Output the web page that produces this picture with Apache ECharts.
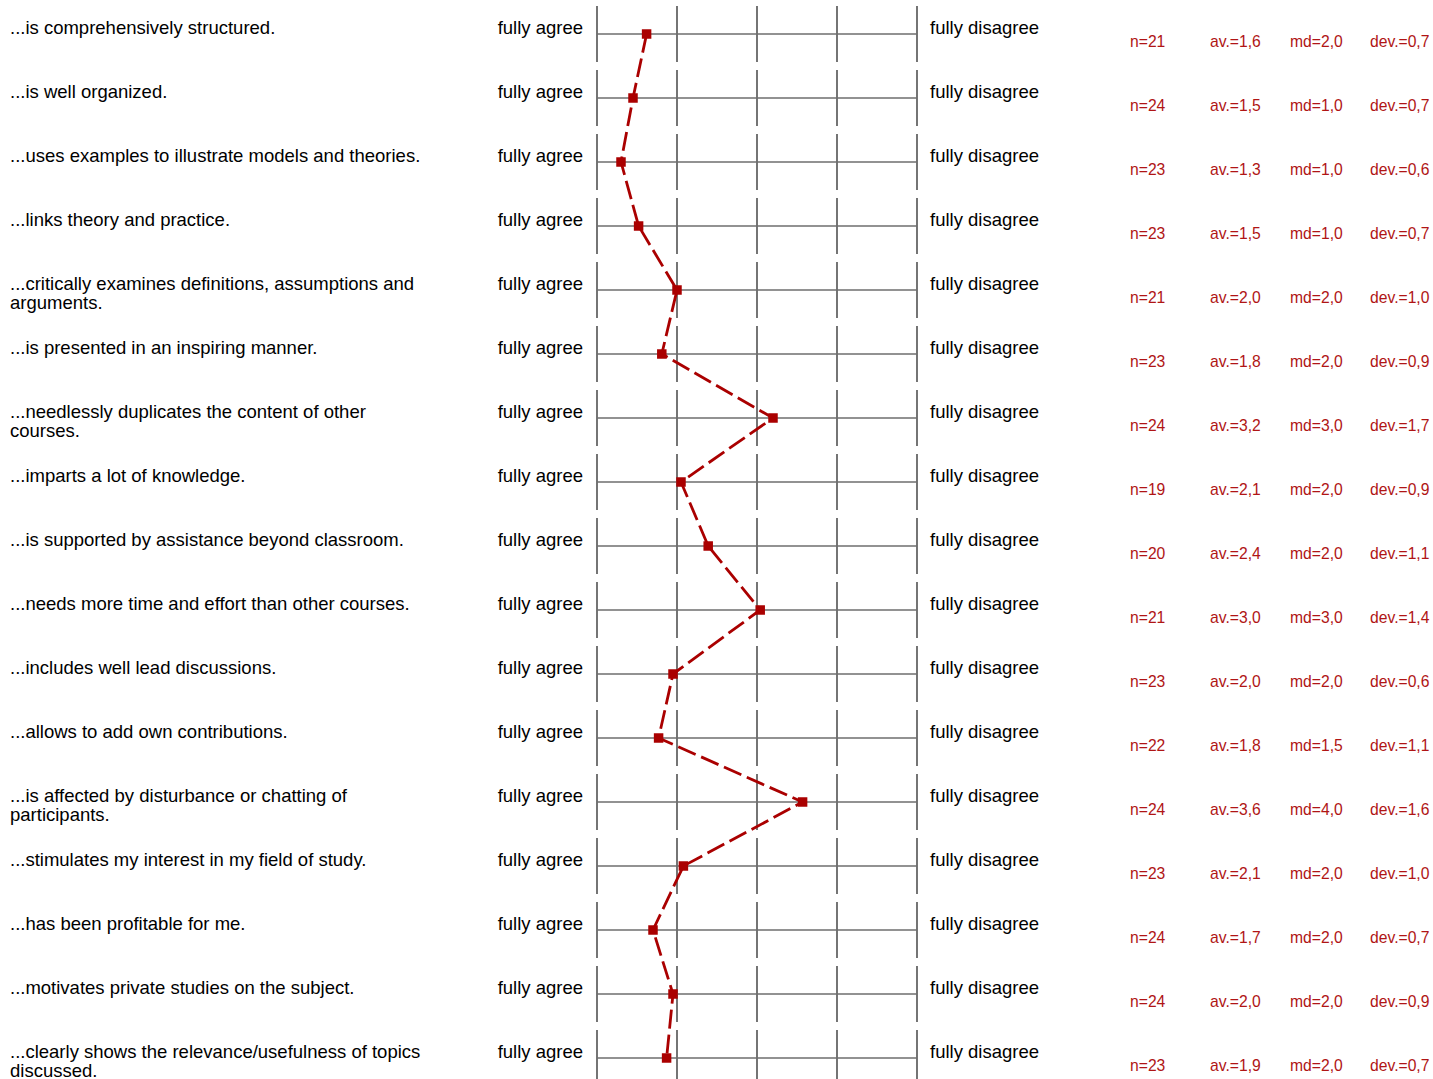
<!DOCTYPE html>
<html>
<head>
<meta charset="utf-8">
<script src="https://cdn.jsdelivr.net/npm/echarts@6/dist/echarts.min.js"></script>
<style>
html,body{margin:0;padding:0;background:#fff;}
#chart{width:1433px;height:1079px;}
</style>
</head>
<body>
<div id="chart"></div>
<script>
const categories = [
  "...is comprehensively structured.",
  "...is well organized.",
  "...uses examples to illustrate models and theories.",
  "...links theory and practice.",
  "...critically examines definitions, assumptions and\narguments.",
  "...is presented in an inspiring manner.",
  "...needlessly duplicates the content of other\ncourses.",
  "...imparts a lot of knowledge.",
  "...is supported by assistance beyond classroom.",
  "...needs more time and effort than other courses.",
  "...includes well lead discussions.",
  "...allows to add own contributions.",
  "...is affected by disturbance or chatting of\nparticipants.",
  "...stimulates my interest in my field of study.",
  "...has been profitable for me.",
  "...motivates private studies on the subject.",
  "...clearly shows the relevance/usefulness of topics\ndiscussed."
];
const meanValues = [1.62, 1.45, 1.30, 1.52, 2.00, 1.81, 3.20, 2.05, 2.39, 3.04, 1.95, 1.77, 3.57, 2.08, 1.70, 1.95, 1.87];
const nValues   = [21, 24, 23, 23, 21, 23, 24, 19, 20, 21, 23, 22, 24, 23, 24, 24, 23];
const avValues  = [1.6, 1.5, 1.3, 1.5, 2.0, 1.8, 3.2, 2.1, 2.4, 3.0, 2.0, 1.8, 3.6, 2.1, 1.7, 2.0, 1.9];
const mdValues  = [2.0, 1.0, 1.0, 1.0, 2.0, 2.0, 3.0, 2.0, 2.0, 3.0, 2.0, 1.5, 4.0, 2.0, 2.0, 2.0, 2.0];
const devValues = [0.7, 0.7, 0.6, 0.7, 1.0, 0.9, 1.7, 0.9, 1.1, 1.4, 0.6, 1.1, 1.6, 1.0, 0.7, 0.9, 0.7];
const scaleTicks = [1, 2, 3, 4, 5];
const leftPole = "fully agree";
const rightPole = "fully disagree";

const fmt = v => v.toFixed(1).replace('.', ',');
const FONT = '"Liberation Sans", Arial, Helvetica, sans-serif';
const RED = '#aa0000';
const TXTRED = '#b01515';
const GRID = '#6e6e6e';

const chart = echarts.init(document.getElementById('chart'), null, {renderer: 'svg'});

function renderRow(params, api) {
  const i = params.dataIndex;
  const c1 = api.coord([scaleTicks[0], i]);
  const c5 = api.coord([scaleTicks[scaleTicks.length - 1], i]);
  const cy = c1[1];
  const children = [];
  children.push({
    type: 'line',
    shape: {x1: c1[0], y1: cy, x2: c5[0], y2: cy},
    style: {stroke: GRID, lineWidth: 1.3}
  });
  scaleTicks.forEach(t => {
    const x = api.coord([t, i])[0];
    children.push({
      type: 'line',
      shape: {x1: x, y1: cy - 28, x2: x, y2: cy + 28},
      style: {stroke: GRID, lineWidth: 1.9}
    });
  });
  const labelStyle = {fontFamily: FONT, fontSize: 18.5, lineHeight: 19, fill: '#000', verticalAlign: 'top'};
  children.push({type: 'text', x: 10, y: cy - 16.5,
    style: Object.assign({text: categories[i], align: 'left'}, labelStyle)});
  children.push({type: 'text', x: c1[0] - 14, y: cy - 16.5,
    style: Object.assign({text: leftPole, align: 'right'}, labelStyle)});
  children.push({type: 'text', x: c5[0] + 13, y: cy - 16.5,
    style: Object.assign({text: rightPole, align: 'left'}, labelStyle)});
  const statStyle = {fontFamily: FONT, fontSize: 15.7, fill: TXTRED, verticalAlign: 'middle', align: 'left'};
  const sy = cy + 7;
  children.push({type: 'text', x: 1130, y: sy, style: Object.assign({text: 'n=' + nValues[i]}, statStyle)});
  children.push({type: 'text', x: 1210, y: sy, style: Object.assign({text: 'av.=' + fmt(avValues[i])}, statStyle)});
  children.push({type: 'text', x: 1290, y: sy, style: Object.assign({text: 'md=' + fmt(mdValues[i])}, statStyle)});
  children.push({type: 'text', x: 1370, y: sy, style: Object.assign({text: 'dev.=' + fmt(devValues[i])}, statStyle)});
  return {type: 'group', children: children};
}

chart.setOption({
  animation: false,
  backgroundColor: '#ffffff',
  grid: {left: 597, width: 320, top: 34, height: 64 * (categories.length - 1), containLabel: false},
  xAxis: {type: 'value', min: 1, max: 5, interval: 1, show: false},
  yAxis: {type: 'value', inverse: true, min: 0, max: categories.length - 1, interval: 1, show: false},
  series: [
    {
      type: 'custom',
      z: 1,
      clip: false,
      silent: true,
      renderItem: renderRow,
      data: categories.map((c, i) => [1, i])
    },
    {
      type: 'line',
      z: 5,
      clip: false,
      data: meanValues.map((v, i) => [v, i]),
      symbol: 'rect',
      symbolSize: 9.5,
      itemStyle: {color: RED},
      lineStyle: {color: RED, width: 2.8, type: [19, 6]}
    }
  ]
});
</script>
</body>
</html>
